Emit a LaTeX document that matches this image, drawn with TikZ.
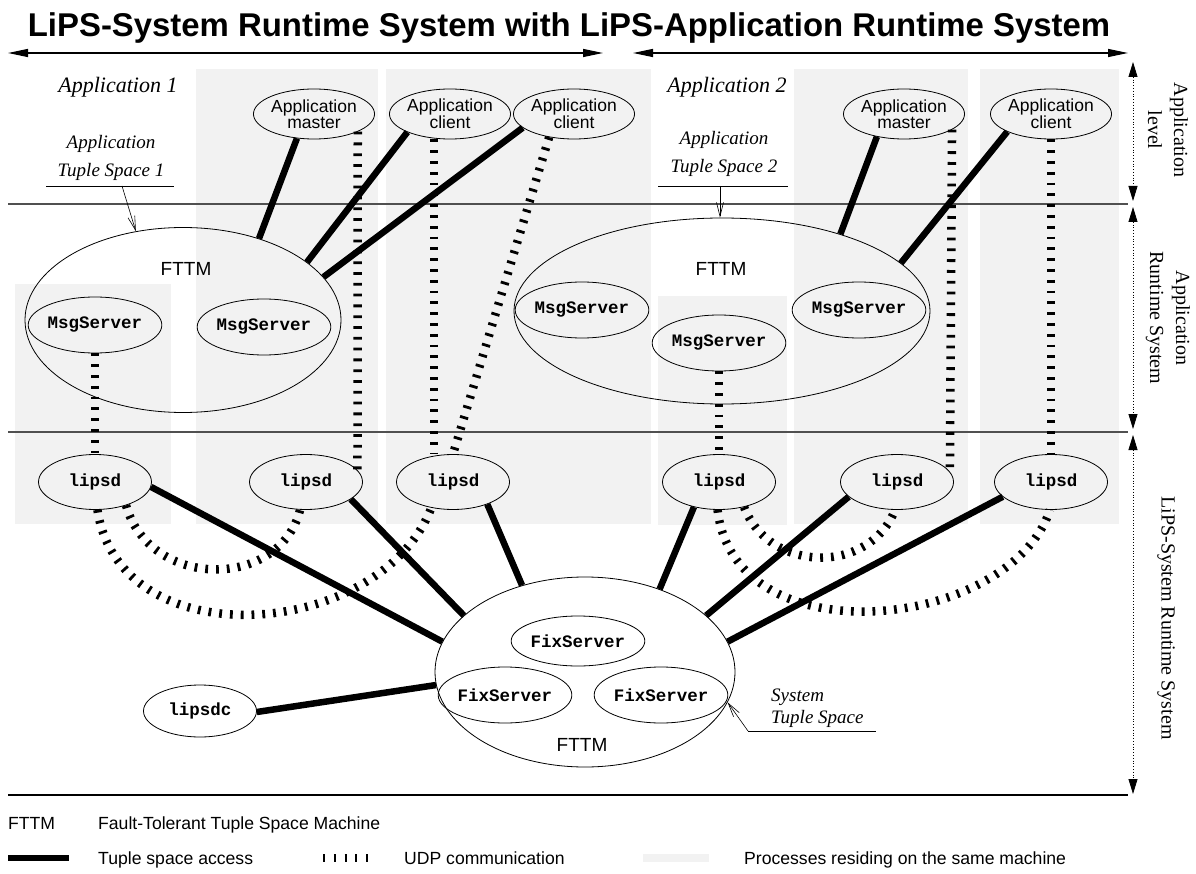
\documentclass[tikz,border=0pt]{standalone}
\usepackage{fontspec}
\setmainfont{Liberation Serif}
\setsansfont{Liberation Sans}
\setmonofont{Liberation Mono}
\usetikzlibrary{shapes.geometric,arrows.meta}
\definecolor{boxgray}{RGB}{242,242,242}
\definecolor{sepgray}{RGB}{80,80,80}

\begin{document}
\begin{tikzpicture}[x=1pt,y=-1pt]
	\tikzstyle{machine}=[fill=boxgray,draw=none]
	\tikzstyle{appnode}=[ellipse,draw,line width=0.8pt,minimum width=114pt,minimum height=50pt,inner sep=0pt,align=center,font=\sffamily\fontsize{17.5}{12.5}\selectfont]
	\tikzstyle{procnode}=[ellipse,draw,line width=0.8pt,minimum width=113pt,minimum height=55pt,inner sep=0pt,font=\ttfamily\bfseries\fontsize{17.5}{20}\selectfont]
	\tikzstyle{ftmnode}=[ellipse,draw,line width=0.8pt,inner sep=0pt]
	\tikzstyle{ftmlabel}=[font=\sffamily\fontsize{19}{22}\selectfont]
	\tikzstyle{tslabel}=[font=\itshape\fontsize{19}{28}\selectfont,align=center]
	\tikzstyle{access}=[line width=6.5pt]
	\tikzstyle{udp}=[line width=8.5pt,dash pattern=on 2.8pt off 8pt]
	\tikzstyle{pointer}=[line width=0.6pt,-{Straight Barb[length=14pt,width=7pt]}]
	\tikzstyle{spanarrow}=[line width=1.3pt,{Triangle[length=20pt,width=8pt]}-{Triangle[length=20pt,width=8pt]}]
	\tikzstyle{levelarrow}=[dotted,line width=0.8pt,{Triangle[length=15pt,width=9pt]}-{Triangle[length=15pt,width=9pt]}]
	\tikzstyle{levellabel}=[font=\fontsize{20}{26}\selectfont,align=center,rotate=-90]
	\tikzstyle{legendtext}=[font=\sffamily\fontsize{17.6}{20}\selectfont,anchor=base west,inner sep=0pt]

	\useasboundingbox[fill=white] (0,0) rectangle (1196,874);

	\fill[machine] (15,284) rectangle (171,524);
	\fill[machine] (196,69) rectangle (378,524);
	\fill[machine] (386,69) rectangle (651,524);
	\fill[machine] (658,296) rectangle (787,525);
	\fill[machine] (794,69) rectangle (968,524);
	\fill[machine] (980,69) rectangle (1119,524);

	\draw[sepgray,line width=1.2pt] (8,204) -- (1128,204);
	\draw[sepgray,line width=1.2pt] (8,432) -- (1128,432);
	\draw[line width=1.5pt] (8,795) -- (1128,795);

	\node[font=\sffamily\bfseries\fontsize{32.9}{38}\selectfont,anchor=base,inner sep=0pt] (title) at (569,37) {LiPS-System Runtime System with LiPS-Application Runtime System};
	\coordinate (sysL) at (8,53);
	\coordinate (sysR) at (603,53);
	\coordinate (appL) at (633,53);
	\coordinate (appR) at (1128,53);
	\draw[spanarrow] (sysL) -- (sysR);
	\draw[spanarrow] (appL) -- (appR);

	\coordinate (lv0) at (1133,62);
	\coordinate (lv1a) at (1133,201);
	\coordinate (lv1b) at (1133,207);
	\coordinate (lv2a) at (1133,429);
	\coordinate (lv2b) at (1133,435);
	\coordinate (lv3) at (1133,794);
	\draw[levelarrow] (lv0) -- (lv1a);
	\draw[levelarrow] (lv1b) -- (lv2a);
	\draw[levelarrow] (lv2b) -- (lv3);
	\node[levellabel] (lvl1) at (1168,130) {Application\\level};
	\node[levellabel] (lvl2) at (1168,318) {Application\\Runtime System};
	\node[levellabel] (lvl3) at (1166,618) {LiPS-System Runtime System};

	\node[font=\itshape\fontsize{22}{24}\selectfont] (app1) at (118,87) {Application 1};
	\node[font=\itshape\fontsize{22}{24}\selectfont] (app2) at (727,87) {Application 2};

	\node[appnode] (am1) at (314,114) {Application\\master};
	\node[appnode] (ac1) at (450,114) {Application\\client};
	\node[appnode] (ac2) at (574,114) {Application\\client};
	\node[appnode] (am2) at (904,114) {Application\\master};
	\node[appnode] (ac3) at (1051,114) {Application\\client};

	\node[ftmnode,minimum width=316pt,minimum height=185pt] (f1) at (183,320) {};
	\node[ftmlabel] (f1label) at (186,269) {FTTM};
	\node[procnode,minimum width=115pt,minimum height=56pt] (ms1) at (95,325) {MsgServer};
	\node[procnode,minimum width=115pt,minimum height=56pt] (ms2) at (264,327) {MsgServer};

	\node[ftmnode,minimum width=416pt,minimum height=186pt] (f2) at (722,311) {};
	\node[ftmlabel] (f2label) at (721,269) {FTTM};
	\node[procnode,minimum width=115pt,minimum height=56pt] (ms3) at (582,310) {MsgServer};
	\node[procnode,minimum width=115pt,minimum height=56pt] (ms4) at (719,343) {MsgServer};
	\node[procnode,minimum width=115pt,minimum height=56pt] (ms5) at (859,310) {MsgServer};

	\node[procnode] (l1) at (95,482) {lipsd};
	\node[procnode] (l2) at (306,482) {lipsd};
	\node[procnode] (l3) at (453,482) {lipsd};
	\node[procnode] (l4) at (719,482) {lipsd};
	\node[procnode] (l5) at (897,482) {lipsd};
	\node[procnode] (l6) at (1051,482) {lipsd};

	\node[ftmnode,minimum width=300pt,minimum height=190pt] (fs) at (585,672) {};
	\node[ftmlabel] (fslabel) at (582,745) {FTTM};
	\node[procnode,minimum width=104pt,minimum height=50pt] (fix1) at (578,641) {FixServer};
	\node[procnode,minimum width=115pt,minimum height=56pt] (fix2) at (505,695) {FixServer};
	\node[procnode,minimum width=112pt,minimum height=56pt] (fix3) at (661,695) {FixServer};
	\node[procnode,minimum height=52pt] (lc) at (200,711) {lipsdc};

	\node[tslabel] (ts1) at (111,158) {Application\\Tuple Space 1};
	\coordinate (ts1a) at (46,186);
	\coordinate (ts1b) at (174,186);
	\coordinate (ts1p) at (122,186);
	\draw[line width=0.8pt] (ts1a) -- (ts1b);
	\draw[pointer] (ts1p) -- (f1.118);

	\node[tslabel] (ts2) at (724,154) {Application\\Tuple Space 2};
	\coordinate (ts2a) at (658,186);
	\coordinate (ts2b) at (788,186);
	\coordinate (ts2p) at (720,186);
	\draw[line width=0.8pt] (ts2a) -- (ts2b);
	\draw[pointer] (ts2p) -- (ts2p |- f2.north);

	\node[tslabel,font=\itshape\fontsize{19}{22}\selectfont,align=left,anchor=west,inner sep=0pt] (tss) at (771,708) {System\\Tuple Space};
	\coordinate (tssa) at (748,731);
	\coordinate (tssb) at (876,731);
	\draw[line width=0.8pt] (tssa) -- (tssb);
	\draw[pointer] (tssa) -- (fs.-12);

	\draw[access] (am1.-125) -- (f1.47);
	\draw[access] (ac1.-157) -- (f1.25);
	\draw[access] (ac2.-165) -- (f1.17);
	\draw[access] (am2.-140) -- (f2.33);
	\draw[access] (ac3.-158) -- (f2.15);
	\draw[access] (l1.-5) -- (fs.168);
	\draw[access] (l2.-21) -- (fs.155);
	\draw[access] (l3.-33) -- (fs.126);
	\draw[access] (l4.-135) -- (fs.48);
	\draw[access] (l5.-163) -- (fs.25);
	\draw[access] (l6.-163) -- (fs.12);
	\draw[access] (lc.-1) -- (fs.-175);

	\draw[udp] (ms1.south) -- (l1.north);
	\draw[udp] (am1.-22) -- (l2.13);
	\draw[udp] ([xshift=-16pt]ac1.south) -- ([xshift=-19pt]l3.north);
	\draw[udp] (ac2.-137) -- (l3.north);
	\draw[udp] (ms4.south) -- (l4.north);
	\draw[udp] (am2.-18) -- (l5.11);
	\draw[udp] (ac3.south) -- (l6.north);
	\draw[udp] (l1.-37) .. controls (150,590) and (280,590) .. (l2.-102);
	\draw[udp] (l1.-85) .. controls (120,660) and (380,640) .. (l3.-130);
	\draw[udp] (l4.-45) .. controls (770,574) and (870,574) .. (l5.-94);
	\draw[udp] (l4.-93) .. controls (735,660) and (1010,630) .. (l6.-92);

	\node[legendtext] (legftm) at (8,829) {FTTM};
	\node[legendtext] (legftmtext) at (98,829) {Fault-Tolerant Tuple Space Machine};
	\coordinate (legaccA) at (8,858);
	\coordinate (legaccB) at (69,858);
	\draw[access] (legaccA) -- (legaccB);
	\node[legendtext] (legacc) at (98,864) {Tuple space access};
	\coordinate (legudpA) at (323,858);
	\coordinate (legudpB) at (375,858);
	\draw[udp,dash pattern=on 2pt off 8.8pt] (legudpA) -- (legudpB);
	\node[legendtext] (legudp) at (404,864) {UDP communication};
	\fill[machine] (643,854) rectangle (709,862);
	\node[legendtext] (legmach) at (744,864) {Processes residing on the same machine};
\end{tikzpicture}
\end{document}
